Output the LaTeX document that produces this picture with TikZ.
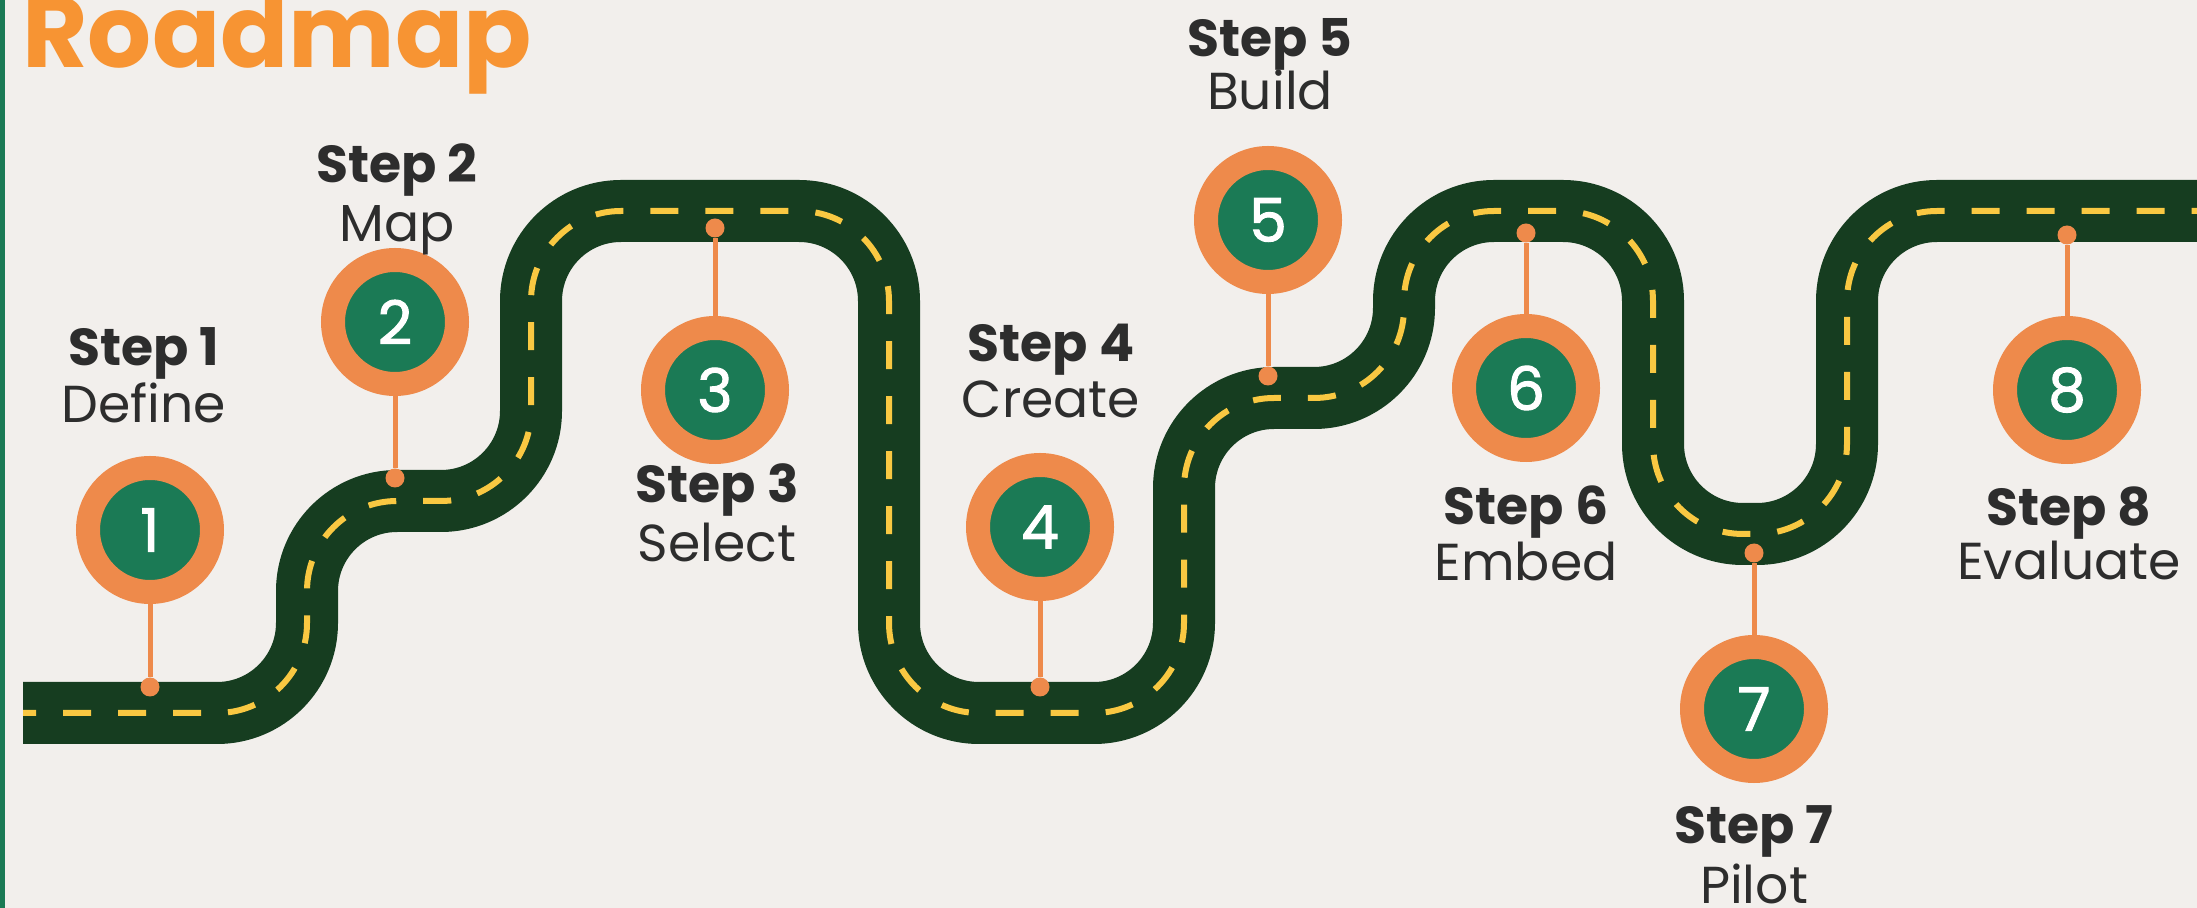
\documentclass[tikz,border=0pt]{standalone}
\usepackage{fontspec}
\setmainfont{Poppins}
\newfontfamily\digitfont[FakeBold=1.6]{Poppins}

\definecolor{paper}{HTML}{F2EFEC}
\definecolor{asphalt}{HTML}{163D20}
\definecolor{lanemark}{HTML}{F9C842}
\definecolor{ringorange}{HTML}{EE8A4B}
\definecolor{pingreen}{HTML}{1B7A55}
\definecolor{labelgray}{HTML}{2D2D2D}
\definecolor{titleorange}{HTML}{F79433}

\begin{document}
\begin{tikzpicture}[
    x=0.5pt, y=-0.5pt, % one unit = one pixel of the layout, y downwards
    road/.style={line width=31pt, asphalt, rounded corners=45pt}, % asphalt band
    lane/.style={line width=3pt, lanemark, rounded corners=45pt,
      dash pattern=on 14pt off 13.5pt, dash phase=7.5pt}, % centre line
    marker/.style={circle, draw=ringorange, line width=12pt, fill=pingreen,
      minimum size=62pt, inner sep=0pt, text=white,
      font=\digitfont\fontsize{30}{36}\selectfont}, % numbered milestone
    pin/.style={circle, fill=ringorange, minimum size=9.5pt, inner sep=0pt},
    stem/.style={-, ringorange, line width=2.5pt},
    steptext/.style={anchor=base, inner sep=0pt, text=labelgray,
      font=\fontsize{26}{30}\selectfont\bfseries},
    nametext/.style={anchor=base, inner sep=0pt, text=labelgray,
      font=\fontsize{26}{30}\selectfont}
  ]

  % --- Canvas ---
  \useasboundingbox (0,0) rectangle (2197,908);
  \clip (0,0) rectangle (2197,908);
  \fill[paper] (0,0) rectangle (2197,908);
  \fill[pingreen] (0,0) rectangle (5,908); % edge bar

  % --- Title ---
  \node[anchor=base west, inner sep=0pt, text=titleorange,
    font=\fontsize{50.3}{58}\selectfont\bfseries] (title) at (22,68) {Roadmap};

  % --- Road (band first, then dashed centre line on the same track) ---
  \foreach \layer in {road, lane} {
    \draw[\layer] (23,713) -- (307,713) -- (307,501) -- (531,501) -- (531,211)
      -- (889,211) -- (889,713) -- (1184,713) -- (1184,398) -- (1404,398)
      -- (1404,211) -- (1653,211) -- (1653,534) -- (1847,534) -- (1847,211)
      -- (2240,211);
  }

  % --- Milestones: number / marker x,y / pin y / label x / baselines / name ---
  \foreach \i/\mx/\my/\dy/\lx/\sy/\ny/\txt in {
      1/150/530/687/144/366/423/Define,
      2/395/322/478/397/183/242/Map,
      3/715/390/228/717/503/562/Select,
      4/1040/527/687/1051/362/418/Create,
      5/1268/220/376/1270/57/110/Build,
      6/1526/388/233/1526/525/581/Embed,
      7/1754/709/553/1754/843/903/Pilot,
      8/2067/390/235/2069/526/580/Evaluate} {
    \node[pin] (d\i) at (\mx,\dy) {};
    \node[marker] (m\i) at (\mx,\my) {\i};
    \draw[stem] (m\i) -- (d\i);
    \node[steptext] (s\i) at (\lx,\sy) {Step \i};
    \node[nametext] (n\i) at (\lx,\ny) {\txt};
  }

\end{tikzpicture}
\end{document}
